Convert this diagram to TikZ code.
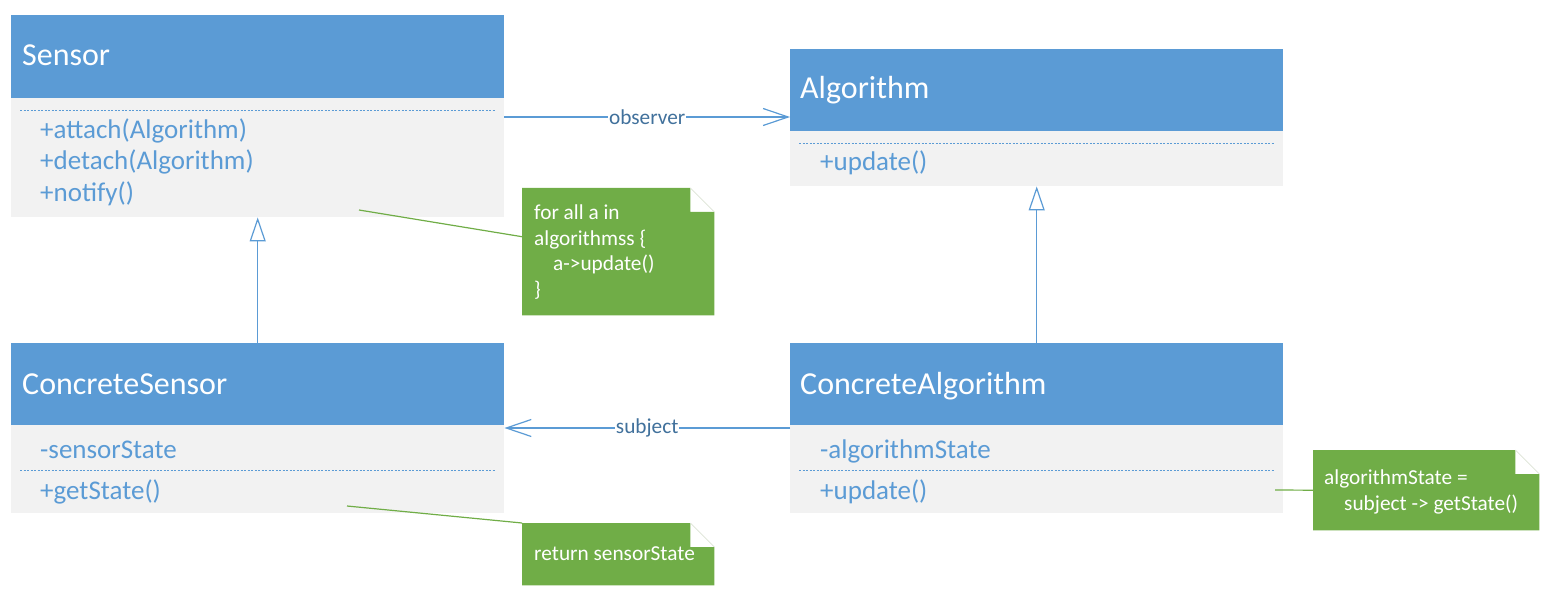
\documentclass[tikz,border=0pt]{standalone}
\usepackage{fontspec}
\setmainfont{Carlito}
\usetikzlibrary{arrows.meta, positioning, calc}

\definecolor{umlblue}{HTML}{5B9BD5}
\definecolor{umlgray}{HTML}{F2F2F2}
\definecolor{notegreen}{HTML}{70AD47}
\definecolor{labelblue}{HTML}{41719C}
\definecolor{foldgray}{HTML}{DCE3D5}

% green note with a folded corner
\newcommand{\notebg}[1]{%
  \fill[notegreen] (#1.north west) -- ([xshift=-24pt]#1.north east)
    -- ([xshift=-24pt,yshift=-24pt]#1.north east) -- ([yshift=-24pt]#1.north east)
    -- (#1.south east) -- (#1.south west) -- cycle;
  \draw[foldgray,line width=0.6pt] ([xshift=-24pt]#1.north east) -- ([yshift=-24pt]#1.north east);
}

\begin{document}
\begin{tikzpicture}[x=1pt,y=-1pt,
  head/.style={fill=umlblue, anchor=north west, inner sep=0pt, minimum width=493pt},
  body/.style={fill=umlgray, anchor=north west, inner sep=0pt, minimum width=493pt},
  title/.style={anchor=base west, inner sep=0pt, text=white, font=\fontsize{32}{38}\selectfont},
  member/.style={anchor=base west, inner sep=0pt, text=umlblue, font=\fontsize{27}{32}\selectfont},
  notetext/.style={anchor=base west, inner sep=0pt, text=white, font=\fontsize{21.3}{26}\selectfont},
  notebox/.style={anchor=north west, inner sep=0pt},
  sep/.style={umlblue, line width=0.8pt, dash pattern=on 2pt off 1.5pt},
  assoc/.style={umlblue, line width=1.2pt, -{Straight Barb[length=25pt,width=17pt,line width=1.2pt]}},
  inherit/.style={umlblue, line width=1.2pt, -{Triangle[open,fill=white,length=24pt,width=16pt,line width=1.2pt]}},
  noteline/.style={notegreen, line width=1.2pt},
  label/.style={fill=white, inner sep=1pt, text=labelblue, font=\fontsize{21.3}{26}\selectfont}]

\useasboundingbox (0,0) rectangle (1552,596);

% classes
\node[head, minimum height=83pt] (sensorhead) at (11,15) {};
\node[body, minimum height=119pt] (sensorbody) at (11,98) {};
\node[head, minimum height=82pt] (algohead) at (790,49) {};
\node[body, minimum height=55pt] (algobody) at (790,131) {};
\node[head, minimum height=82pt] (cshead) at (11,343) {};
\node[body, minimum height=88pt] (csbody) at (11,425) {};
\node[head, minimum height=82pt] (cahead) at (790,343) {};
\node[body, minimum height=88pt] (cabody) at (790,425) {};

\node[title] (sensorname) at (22,66) {Sensor};
\node[title] (algoname) at (800,99) {Algorithm};
\node[title] (csname) at (22,394) {ConcreteSensor};
\node[title] (caname) at (800,394) {ConcreteAlgorithm};

% separators
\draw[sep] (20,110) -- (496,110);
\draw[sep] (799,143) -- (1274,143);
\draw[sep] (20,470) -- (496,470);
\draw[sep] (799,470) -- (1274,470);

% members
\node[member] (attach) at (40,139) {+attach(Algorithm)};
\node[member] (detach) at (40,170) {+detach(Algorithm)};
\node[member] (notify) at (40,201) {+notify()};
\node[member] (update) at (820,171) {+update()};
\node[member] (sensorstate) at (40,458) {-sensorState};
\node[member] (getstate) at (40,499) {+getState()};
\node[member] (algostate) at (820,458) {-algorithmState};
\node[member] (caupdate) at (820,499) {+update()};

% notes
\node[notebox, minimum width=192pt, minimum height=127pt] (note1) at (522,188) {};
\node[notebox, minimum width=192pt, minimum height=62pt] (note2) at (522,523) {};
\node[notebox, minimum width=226pt, minimum height=80pt] (note3) at (1313,450) {};
\notebg{note1}
\notebg{note2}
\notebg{note3}

\node[notetext] (n1a) at (534,219) {for all a in};
\node[notetext] (n1b) at (534,245) {algorithmss \{};
\node[notetext] (n1c) at (553,270) {a->update()};
\node[notetext] (n1d) at (534,296) {\}};
\node[notetext] (n2a) at (534,560) {return sensorState};
\node[notetext] (n3a) at (1324,484) {algorithmState =};
\node[notetext] (n3b) at (1344,510) {subject -> getState()};

% connectors
\draw[assoc] ([yshift=-19pt]sensorbody.north east) -- node[label] {observer}
  ([yshift=-19pt]sensorbody.north east -| algohead.west);
\draw[assoc] ([yshift=-3pt]cabody.north west) -- node[label] {subject}
  ([yshift=-3pt]csbody.north east);
\draw[inherit] (cshead.north) -- (sensorbody.south);
\draw[inherit] (cahead.north) -- (algobody.south);

\coordinate (notifyend) at (359,210);
\coordinate (getstateend) at (347,506);
\coordinate (updateend) at (1275,490);
\draw[noteline] (notifyend) -- ([yshift=15pt]note1.west);
\draw[noteline] (getstateend) -- (note2.north west);
\draw[noteline] (updateend) -- (note3.west);

\end{tikzpicture}
\end{document}
